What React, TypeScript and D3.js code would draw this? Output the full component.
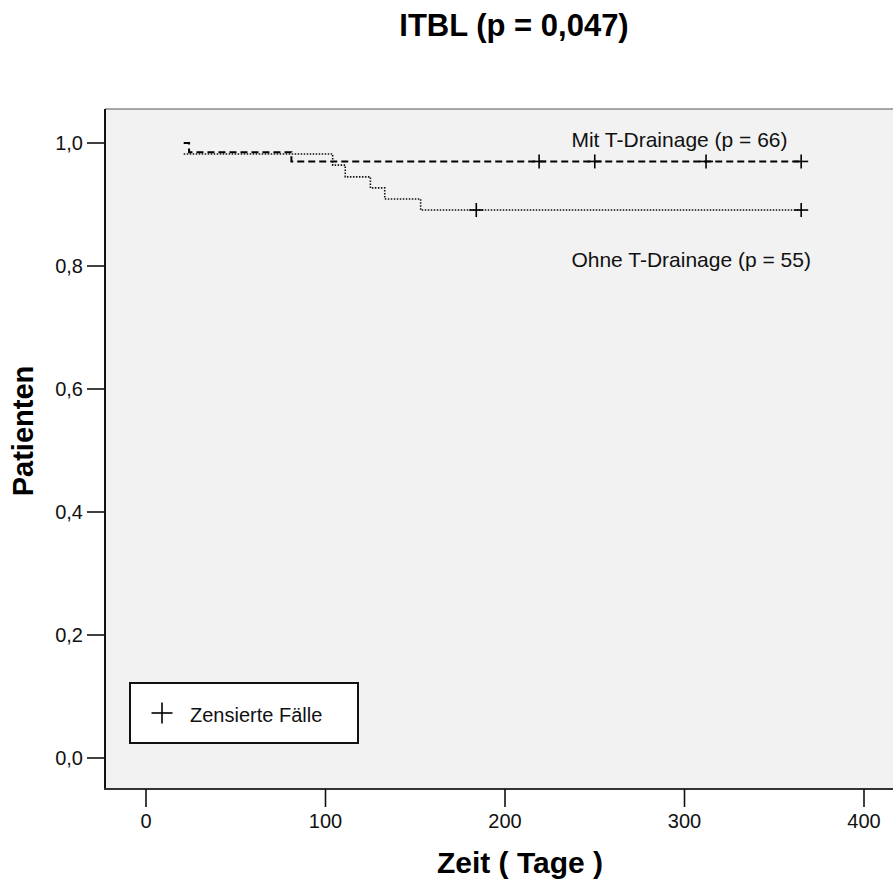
import React from "react";
import { scaleLinear, line, curveStepAfter } from "d3";

// chart size
const width = 893;
const height = 887;
const font = "'Liberation Sans', Arial, Helvetica, sans-serif";

// Kaplan-Meier steps
const mitTimes = [21, 24, 81, 365];
const mitSurv = [1.0, 0.985, 0.97, 0.97];
const mitCensored = [219, 250, 312, 365];

const ohneTimes = [21, 104, 111, 125, 133, 153, 365];
const ohneSurv = [0.982, 0.964, 0.945, 0.927, 0.909, 0.891, 0.891];
const ohneCensored = [184, 365];

const xTicks = [0, 100, 200, 300, 400];
const yTicks = [0, 0.2, 0.4, 0.6, 0.8, 1.0];

const title = "ITBL (p = 0,047)";
const xLabel = "Zeit ( Tage )";
const yLabel = "Patienten";
const mitLabel = "Mit T-Drainage (p = 66)";
const ohneLabel = "Ohne T-Drainage (p = 55)";
const legendLabel = "Zensierte Fälle";

const x = scaleLinear().domain([0, 400]).range([146, 864]);
const y = scaleLinear().domain([0, 1]).range([758, 143]);

const plotLeft = 105;
const plotTop = 109;
const plotBottom = 789;

const stepLine = line<[number, number]>()
  .x(d => x(d[0]))
  .y(d => y(d[1]))
  .curve(curveStepAfter);

const fmt = (v: number) => v.toFixed(1).replace(".", ",");

function Plus({ cx, cy, size = 14, sw = 1.6 }: { cx: number; cy: number; size?: number; sw?: number }) {
  const h = size / 2;
  return (
    <g stroke="#000" strokeWidth={sw}>
      <line x1={cx - h} x2={cx + h} y1={cy} y2={cy} />
      <line x1={cx} x2={cx} y1={cy - h} y2={cy + h} />
    </g>
  );
}

export default function App() {
  const mitPts = mitTimes.map((t, i) => [t, mitSurv[i]] as [number, number]);
  const ohnePts = ohneTimes.map((t, i) => [t, ohneSurv[i]] as [number, number]);

  return (
    <div style={{ position: "absolute", left: 0, top: 0 }}>
      <svg width={width} height={height} style={{ display: "block", background: "#fff" }} fontFamily={font}>
        {/* plot area */}
        <rect x={plotLeft} y={plotTop} width={width - plotLeft + 2} height={plotBottom - plotTop} fill="#f2f2f2" />
        <line x1={plotLeft} x2={width} y1={plotTop} y2={plotTop} stroke="#555" strokeWidth={1.2} />
        <line x1={plotLeft} x2={plotLeft} y1={plotTop} y2={plotBottom} stroke="#111" strokeWidth={2} />
        <line x1={plotLeft - 1} x2={width} y1={plotBottom} y2={plotBottom} stroke="#333" strokeWidth={2} />

        {/* y axis */}
        {yTicks.map(t => (
          <g key={t}>
            <line x1={87} x2={plotLeft} y1={y(t)} y2={y(t)} stroke="#111" strokeWidth={1.6} />
            <text x={83} y={y(t)} dy="0.35em" textAnchor="end" fontSize={20} fill="#111">
              {fmt(t)}
            </text>
          </g>
        ))}

        {/* x axis */}
        {xTicks.map(t => (
          <g key={t}>
            <line x1={x(t)} x2={x(t)} y1={plotBottom} y2={807} stroke="#111" strokeWidth={1.6} />
            <text x={x(t)} y={828} textAnchor="middle" fontSize={20} fill="#111">
              {t}
            </text>
          </g>
        ))}

        {/* curves */}
        <path d={stepLine(ohnePts) || ""} fill="none" stroke="#111" strokeWidth={1.6} strokeDasharray="1.5,1.5" />
        <path d={stepLine(mitPts) || ""} fill="none" stroke="#000" strokeWidth={2} strokeDasharray="7,4" />

        {/* censored cases */}
        {mitCensored.map(t => (
          <Plus key={"m" + t} cx={x(t)} cy={y(0.97)} />
        ))}
        {ohneCensored.map(t => (
          <Plus key={"o" + t} cx={x(t)} cy={y(0.891)} />
        ))}

        {/* group labels */}
        <text x={x(237)} y={147} fontSize={21} fill="#111">{mitLabel}</text>
        <text x={x(237)} y={267} fontSize={21} fill="#111">{ohneLabel}</text>

        {/* legend */}
        <rect x={130} y={683} width={228} height={60} fill="#fff" stroke="#111" strokeWidth={2} />
        <Plus cx={162} cy={713} size={21} sw={1.6} />
        <text x={190} y={722} fontSize={20} fill="#111">{legendLabel}</text>

        {/* titles */}
        <text x={514} y={36} textAnchor="middle" fontSize={31} fontWeight="bold" fill="#000">
          {title}
        </text>
        <text x={520} y={873} textAnchor="middle" fontSize={30} fontWeight="bold" fill="#000">
          {xLabel}
        </text>
        <text transform="translate(33,431) rotate(-90)" textAnchor="middle" fontSize={29} fontWeight="bold" fill="#000">
          {yLabel}
        </text>
      </svg>
    </div>
  );
}
